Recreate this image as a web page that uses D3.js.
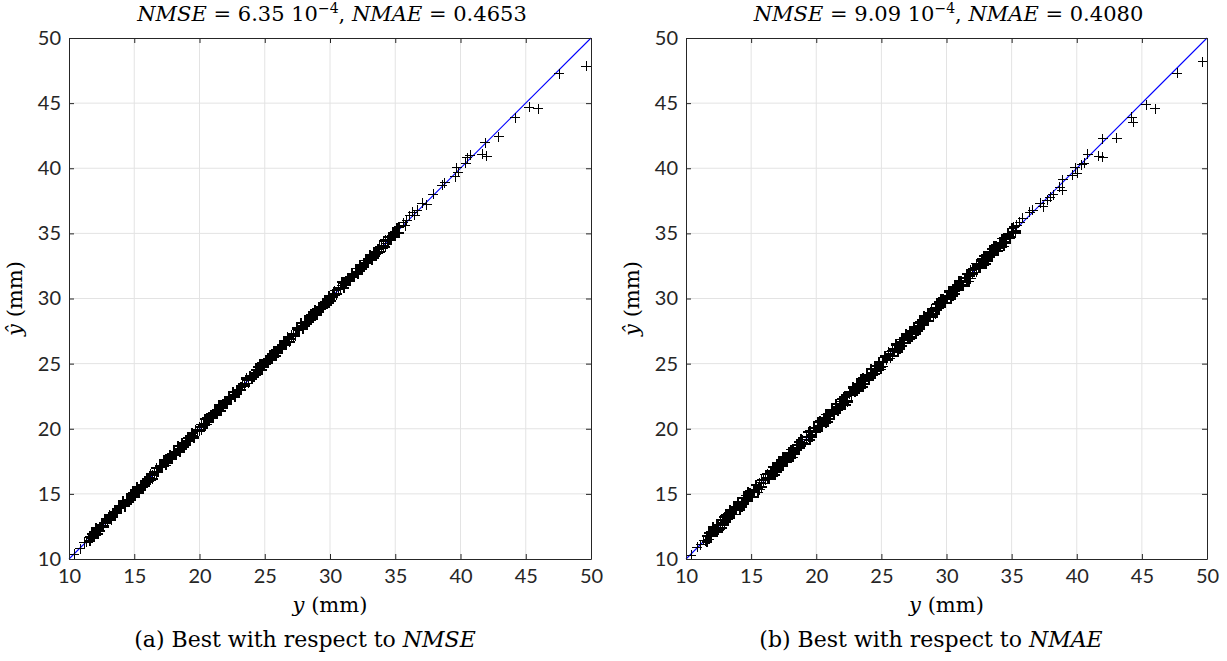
<!DOCTYPE html>
<html>
<head>
<meta charset="utf-8">
<script src="https://cdn.jsdelivr.net/npm/d3@7"></script>
<style>
  html, body { margin: 0; padding: 0; background: #ffffff; }
  svg { display: block; }
</style>
</head>
<body>
<script>
// ---------------- DATA ----------------
const tickValues = [10, 15, 20, 25, 30, 35, 40, 45, 50];
const tickLabels = ["10", "15", "20", "25", "30", "35", "40", "45", "50"];

// Sparse points at the lower-left end (true y, shared by both models)
const lowTrue  = [10.40, 10.85, 11.15, 11.35, 11.50];
const lowPredA = [10.35, 10.80, 11.25, 11.30, 11.62];
const lowPredB = [10.30, 10.90, 11.10, 11.45, 11.40];

// Dense band (true y values, shared by both models)
const bandTrue = [11.60,11.75,11.90,12.05,12.20,12.35,12.50,12.65,12.80,12.95,13.10,13.25,13.40,13.55,13.70,13.85,14.00,14.15,14.30,14.45,14.60,14.75,14.90,15.05,15.20,15.35,15.50,15.65,15.80,15.95,16.10,16.25,16.40,16.55,16.70,16.85,17.00,17.15,17.30,17.45,17.60,17.75,17.90,18.05,18.20,18.35,18.50,18.65,18.80,18.95,19.10,19.25,19.40,19.55,19.70,19.85,20.00,20.15,20.30,20.45,20.60,20.75,20.90,21.05,21.20,21.35,21.50,21.65,21.80,21.95,22.10,22.25,22.40,22.55,22.70,22.85,23.00,23.15,23.30,23.45,23.60,23.75,23.90,24.05,24.20,24.35,24.50,24.65,24.80,24.95,25.10,25.25,25.40,25.55,25.70,25.85,26.00,26.15,26.30,26.45,26.60,26.75,26.90,27.05,27.20,27.35,27.50,27.65,27.80,27.95,28.10,28.25,28.40,28.55,28.70,28.85,29.00,29.15,29.30,29.45,29.60,29.75,29.90,30.05,30.20,30.35,30.50,30.65,30.80,30.95,31.10,31.25,31.40,31.55,31.70,31.85,32.00,32.15,32.30,32.45,32.60,32.75,32.90,33.05,33.20,33.35,33.50,33.65,33.80,33.95,34.10,34.25,34.40,34.55,34.70,34.85,35.00,35.15,35.30];

// Predictions, model (a) best w.r.t. NMSE (two samples per true value)
const bandPredA = [11.68,11.60,12.11,12.01,12.32,12.13,12.52,12.56,13.06,12.77,13.25,13.23,13.45,13.63,13.55,14.06,13.96,14.27,14.08,14.47,14.51,15.01,14.72,15.20,15.18,15.40,15.58,15.50,16.01,15.91,16.22,16.03,16.42,16.46,16.96,16.67,17.15,17.13,17.35,17.53,17.45,17.96,17.86,18.17,17.98,18.37,18.41,18.91,18.62,19.10,19.08,19.30,19.48,19.40,19.91,19.81,20.12,19.93,20.32,20.36,20.86,20.57,21.05,21.03,21.25,21.43,21.35,21.86,21.76,22.07,21.88,22.27,22.31,22.81,22.52,23.00,22.98,23.20,23.38,23.30,23.81,23.71,24.02,23.83,24.22,24.26,24.76,24.47,24.95,24.93,25.15,25.33,25.25,25.76,25.66,25.97,25.78,26.17,26.21,26.71,26.42,26.90,26.88,27.10,27.28,27.20,27.71,27.61,27.92,27.73,28.12,28.16,28.66,28.37,28.85,28.83,29.05,29.23,29.15,29.66,29.56,29.87,29.68,30.07,30.11,30.61,30.32,30.80,30.78,31.00,31.18,31.10,31.61,31.51,31.82,31.63,32.02,32.06,32.56,32.27,32.75,32.73,32.95,33.13,33.05,33.56,33.46,33.77,33.58,33.97,34.01,34.51,34.22,34.70,34.68,34.90,35.08,35.00,35.51];
const bandPredA2 = [11.40,11.92,11.80,12.35,11.93,12.47,12.44,12.45,12.97,12.85,13.40,12.98,13.52,13.49,13.50,14.02,13.90,14.45,14.03,14.57,14.54,14.55,15.07,14.95,15.50,15.08,15.62,15.59,15.60,16.12,16.00,16.55,16.13,16.67,16.64,16.65,17.17,17.05,17.60,17.18,17.72,17.69,17.70,18.22,18.10,18.65,18.23,18.77,18.74,18.75,19.27,19.15,19.70,19.28,19.82,19.79,19.80,20.32,20.20,20.75,20.33,20.87,20.84,20.85,21.37,21.25,21.80,21.38,21.92,21.89,21.90,22.42,22.30,22.85,22.43,22.97,22.94,22.95,23.47,23.35,23.90,23.48,24.02,23.99,24.00,24.52,24.40,24.95,24.53,25.07,25.04,25.05,25.57,25.45,26.00,25.58,26.12,26.09,26.10,26.62,26.50,27.05,26.63,27.17,27.14,27.15,27.67,27.55,28.10,27.68,28.22,28.19,28.20,28.72,28.60,29.15,28.73,29.27,29.24,29.25,29.77,29.65,30.20,29.78,30.32,30.29,30.30,30.82,30.70,31.25,30.83,31.37,31.34,31.35,31.87,31.75,32.30,31.88,32.42,32.39,32.40,32.92,32.80,33.35,32.93,33.47,33.44,33.45,33.97,33.85,34.40,33.98,34.52,34.49,34.50,35.02,34.90,35.45,35.03];

// Predictions, model (b) best w.r.t. NMAE (two samples per true value)
const bandPredB = [11.78,11.50,11.95,12.37,12.08,12.57,12.20,12.75,12.75,13.23,12.90,13.43,13.15,13.60,14.02,13.73,14.22,13.85,14.40,14.40,14.88,14.55,15.08,14.80,15.25,15.67,15.38,15.87,15.50,16.05,16.05,16.53,16.20,16.73,16.45,16.90,17.32,17.03,17.52,17.15,17.70,17.70,18.18,17.85,18.38,18.10,18.55,18.97,18.68,19.17,18.80,19.35,19.35,19.83,19.50,20.03,19.75,20.20,20.62,20.33,20.82,20.45,21.00,21.00,21.48,21.15,21.68,21.40,21.85,22.27,21.98,22.47,22.10,22.65,22.65,23.13,22.80,23.33,23.05,23.50,23.92,23.63,24.12,23.75,24.30,24.30,24.78,24.45,24.98,24.70,25.15,25.57,25.28,25.77,25.40,25.95,25.95,26.43,26.10,26.63,26.35,26.80,27.22,26.93,27.42,27.05,27.60,27.60,28.08,27.75,28.28,28.00,28.45,28.87,28.58,29.07,28.70,29.25,29.25,29.73,29.40,29.93,29.65,30.10,30.52,30.23,30.72,30.35,30.90,30.90,31.38,31.05,31.58,31.30,31.75,32.17,31.88,32.37,32.00,32.55,32.55,33.03,32.70,33.23,32.95,33.40,33.82,33.53,34.02,33.65,34.20,34.20,34.68,34.35,34.88,34.60,35.05,35.47,35.18];
const bandPredB2 = [11.28,12.00,11.75,12.43,12.15,12.07,12.64,13.00,12.40,12.63,13.35,13.10,13.78,13.50,13.42,13.99,14.35,13.75,13.98,14.70,14.45,15.13,14.85,14.77,15.34,15.70,15.10,15.33,16.05,15.80,16.48,16.20,16.12,16.69,17.05,16.45,16.68,17.40,17.15,17.83,17.55,17.47,18.04,18.40,17.80,18.03,18.75,18.50,19.18,18.90,18.82,19.39,19.75,19.15,19.38,20.10,19.85,20.53,20.25,20.17,20.74,21.10,20.50,20.73,21.45,21.20,21.88,21.60,21.52,22.09,22.45,21.85,22.08,22.80,22.55,23.23,22.95,22.87,23.44,23.80,23.20,23.43,24.15,23.90,24.58,24.30,24.22,24.79,25.15,24.55,24.78,25.50,25.25,25.93,25.65,25.57,26.14,26.50,25.90,26.13,26.85,26.60,27.28,27.00,26.92,27.49,27.85,27.25,27.48,28.20,27.95,28.63,28.35,28.27,28.84,29.20,28.60,28.83,29.55,29.30,29.98,29.70,29.62,30.19,30.55,29.95,30.18,30.90,30.65,31.33,31.05,30.97,31.54,31.90,31.30,31.53,32.25,32.00,32.68,32.40,32.32,32.89,33.25,32.65,32.88,33.60,33.35,34.03,33.75,33.67,34.24,34.60,34.00,34.23,34.95,34.70,35.38,35.10,35.02];

// Sparse upper tail, model (a)
const tailTrueA = [35.36,35.60,35.75,35.90,36.10,36.36,36.50,36.67,37.05,37.40,37.90,38.60,38.80,39.58,39.73,39.81,40.42,40.50,40.73,41.65,41.88,42.03,42.95,44.18,45.25,45.94,47.55,49.62];
const tailPredA = [35.49,35.80,35.60,36.00,36.35,36.64,36.40,36.79,37.33,37.18,38.00,38.71,38.87,39.33,40.02,39.71,40.40,40.79,41.00,41.09,41.94,40.94,42.40,43.86,44.70,44.55,47.24,47.85];

// Sparse upper tail, model (b)
const tailTrueB = [35.41,35.64,35.87,36.41,36.64,37.18,37.41,37.72,37.95,38.18,38.71,38.87,38.94,39.64,39.87,40.02,40.40,40.56,40.86,41.70,42.00,42.01,43.09,44.24,44.32,45.32,46.01,47.70,49.69];
const tailPredB = [35.64,35.87,36.18,36.64,36.79,37.33,37.03,37.56,37.79,37.95,38.56,38.33,39.10,39.48,40.02,39.63,40.25,40.40,41.09,40.94,40.86,42.25,42.32,43.93,43.55,44.86,44.55,47.31,48.16];

const panelTitles = [
  {nmse: "6.35", nmae: "0.4653"},
  {nmse: "9.09", nmae: "0.4080"}
];
const captions = [
  {prefix: "(a) Best with respect to ", metric: "NMSE"},
  {prefix: "(b) Best with respect to ", metric: "NMAE"}
];

// ---------------- DRAW ----------------
const W = 1227, H = 661;
const svg = d3.select("body").append("svg").attr("width", W).attr("height", H);

const serif = "'DejaVu Serif', 'Liberation Serif', serif";
const sans = "Lato, 'Open Sans', 'Noto Sans', sans-serif";
const axisColor = "#262626";

const panels = [
  {x0: 69, x1: 591, capX: 305,
   sparseTrue: lowTrue.concat(tailTrueA), sparsePred: lowPredA.concat(tailPredA),
   denseTrue: bandTrue.concat(bandTrue), densePred: bandPredA.concat(bandPredA2)},
  {x0: 686, x1: 1207, capX: 931,
   sparseTrue: lowTrue.concat(tailTrueB), sparsePred: lowPredB.concat(tailPredB),
   denseTrue: bandTrue.concat(bandTrue), densePred: bandPredB.concat(bandPredB2)}
];
const yTop = 38, yBot = 559;

panels.forEach((p, idx) => {
  const g = svg.append("g");
  const x = d3.scaleLinear().domain([10, 50]).range([p.x0, p.x1]);
  const y = d3.scaleLinear().domain([10, 50]).range([yBot, yTop]);

  // grid
  g.append("g").selectAll("line").data(tickValues.slice(1, -1)).join("line")
    .attr("x1", d => x(d)).attr("x2", d => x(d)).attr("y1", yTop).attr("y2", yBot)
    .attr("stroke", "#e3e3e3").attr("stroke-width", 1);
  g.append("g").selectAll("line").data(tickValues.slice(1, -1)).join("line")
    .attr("y1", d => y(d)).attr("y2", d => y(d)).attr("x1", p.x0).attr("x2", p.x1)
    .attr("stroke", "#e3e3e3").attr("stroke-width", 1);

  // reference line y = x
  g.append("line")
    .attr("x1", x(10)).attr("y1", y(10)).attr("x2", x(50)).attr("y2", y(50))
    .attr("stroke", "#0000ff").attr("stroke-width", 1.1);

  // markers '+'
  const s = 5;
  const drawPlus = (tv, pv, sw) => {
    const pts = tv.map((t, i) => [t, pv[i]]);
    g.append("g").attr("shape-rendering", "crispEdges").selectAll("path").data(pts).join("path")
      .attr("transform", d => `translate(${x(d[0])},${y(d[1])})`)
      .attr("d", `M${-s},0H${s}M0,${-s}V${s}`)
      .attr("stroke", "#000").attr("stroke-width", sw).attr("fill", "none");
  };
  drawPlus(p.denseTrue, p.densePred, 1.8);
  drawPlus(p.sparseTrue, p.sparsePred, 1);

  // axes
  const fmt = (d) => tickLabels[tickValues.indexOf(d)];
  const styleAxis = (sel) => {
    sel.selectAll("path.domain").attr("stroke", axisColor).attr("stroke-width", 1);
    sel.selectAll(".tick line").attr("stroke", axisColor);
    sel.selectAll("text").attr("font-family", sans).attr("font-size", 20).attr("fill", axisColor);
  };
  g.append("g").attr("transform", `translate(0,${yBot})`)
    .call(d3.axisBottom(x).tickValues(tickValues).tickFormat(fmt).tickSizeInner(-5).tickSizeOuter(0).tickPadding(10))
    .call(styleAxis);
  g.append("g").attr("transform", `translate(0,${yTop})`)
    .call(d3.axisTop(x).tickValues(tickValues).tickFormat("").tickSizeInner(-5).tickSizeOuter(0))
    .call(styleAxis);
  g.append("g").attr("transform", `translate(${p.x0},0)`)
    .call(d3.axisLeft(y).tickValues(tickValues).tickFormat(fmt).tickSizeInner(-5).tickSizeOuter(0).tickPadding(8))
    .call(styleAxis);
  g.append("g").attr("transform", `translate(${p.x1},0)`)
    .call(d3.axisRight(y).tickValues(tickValues).tickFormat("").tickSizeInner(-5).tickSizeOuter(0))
    .call(styleAxis);

  const cx = (p.x0 + p.x1) / 2;

  // title
  const t = g.append("text").attr("x", cx + 2).attr("y", 21).attr("text-anchor", "middle")
    .attr("font-family", serif).attr("font-size", 21).attr("fill", "#000");
  t.append("tspan").attr("font-style", "italic").text("NMSE");
  t.append("tspan").text(" = " + panelTitles[idx].nmse + " 10");
  t.append("tspan").attr("font-size", 14).attr("dy", -8).text("\u22124");
  t.append("tspan").attr("dy", 8).text(", ");
  t.append("tspan").attr("font-style", "italic").text("NMAE");
  t.append("tspan").text(" = " + panelTitles[idx].nmae);

  // x label
  const xl = g.append("text").attr("x", cx).attr("y", 612).attr("text-anchor", "middle")
    .attr("font-family", serif).attr("font-size", 21).attr("fill", "#000");
  xl.append("tspan").attr("font-style", "italic").text("y");
  xl.append("tspan").text(" (mm)");

  // y label
  const ly = (yTop + yBot) / 2;
  const yl = g.append("text").attr("transform", `translate(${p.x0 - 47},${ly}) rotate(-90)`)
    .attr("text-anchor", "middle")
    .attr("font-family", serif).attr("font-size", 21).attr("fill", "#000");
  yl.append("tspan").attr("font-style", "italic").text("\u0177");
  yl.append("tspan").text(" (mm)");

  // caption
  const c = g.append("text").attr("x", p.capX).attr("y", 647).attr("text-anchor", "middle")
    .attr("font-family", serif).attr("font-size", 22).attr("fill", "#000");
  c.append("tspan").text(captions[idx].prefix);
  c.append("tspan").attr("font-style", "italic").text(captions[idx].metric);
});
</script>
</body>
</html>
